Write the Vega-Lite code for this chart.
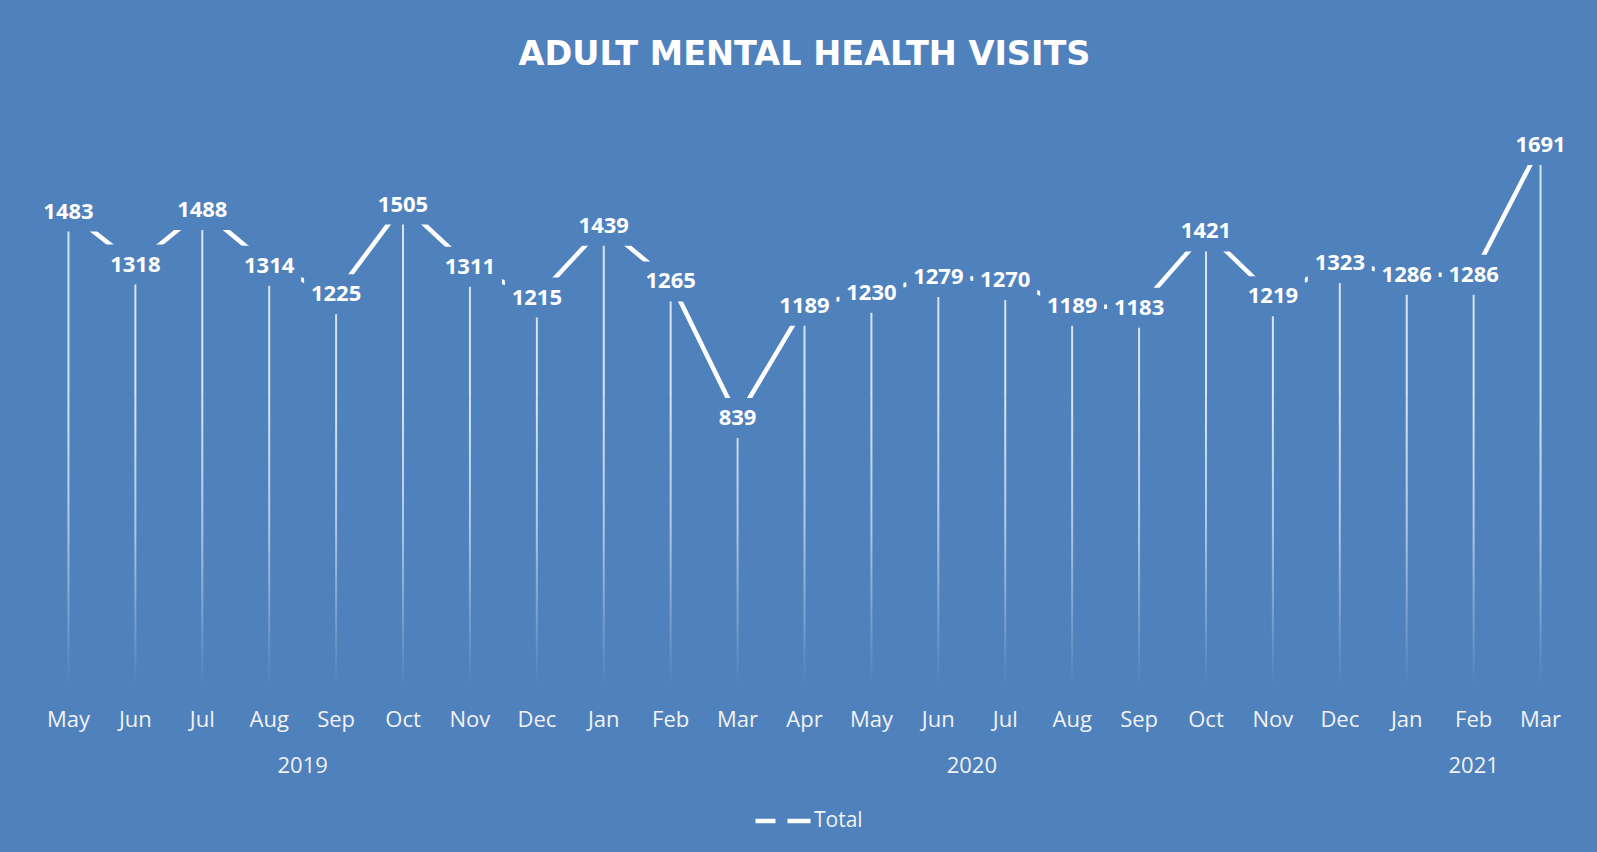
{
  "$schema": "https://vega.github.io/schema/vega-lite/v6.json",
  "autosize": "none",
  "padding": {"left": 35, "top": 110, "right": 23, "bottom": 165},
  "width": 1539,
  "height": 577,
  "background": "#4F81BD",
  "config": {"view": {"stroke": null}},
  "title": {
    "text": "ADULT MENTAL HEALTH VISITS",
    "font": "DejaVu Sans",
    "fontWeight": "bold",
    "fontSize": 33.5,
    "color": "#FFFFFF",
    "anchor": "middle",
    "frame": "group",
    "baseline": "alphabetic",
    "offset": 12
  },
  "data": {
    "values": [
      {"period": "May 2019", "series": "Total", "visits": 1483},
      {"period": "Jun 2019", "series": "Total", "visits": 1318},
      {"period": "Jul 2019", "series": "Total", "visits": 1488},
      {"period": "Aug 2019", "series": "Total", "visits": 1314},
      {"period": "Sep 2019", "series": "Total", "visits": 1225},
      {"period": "Oct 2019", "series": "Total", "visits": 1505},
      {"period": "Nov 2019", "series": "Total", "visits": 1311},
      {"period": "Dec 2019", "series": "Total", "visits": 1215},
      {"period": "Jan 2020", "series": "Total", "visits": 1439},
      {"period": "Feb 2020", "series": "Total", "visits": 1265},
      {"period": "Mar 2020", "series": "Total", "visits": 839},
      {"period": "Apr 2020", "series": "Total", "visits": 1189},
      {"period": "May 2020", "series": "Total", "visits": 1230},
      {"period": "Jun 2020", "series": "Total", "visits": 1279},
      {"period": "Jul 2020", "series": "Total", "visits": 1270},
      {"period": "Aug 2020", "series": "Total", "visits": 1189},
      {"period": "Sep 2020", "series": "Total", "visits": 1183},
      {"period": "Oct 2020", "series": "Total", "visits": 1421},
      {"period": "Nov 2020", "series": "Total", "visits": 1219},
      {"period": "Dec 2020", "series": "Total", "visits": 1323},
      {"period": "Jan 2021", "series": "Total", "visits": 1286},
      {"period": "Feb 2021", "series": "Total", "visits": 1286},
      {"period": "Mar 2021", "series": "Total", "visits": 1691}
    ]
  },
  "resolve": {"axis": {"x": "independent"}},
  "layer": [
    {
      "mark": {"type": "bar", "size": 2, "color": "#FFFFFF", "opacity": 0.78},
      "encoding": {
        "x": {
          "field": "period", "type": "ordinal", "sort": null,
          "scale": {"type": "band", "paddingInner": 0, "paddingOuter": 0},
          "axis": {
            "orient": "bottom", "values": ["Aug 2019", "Jun 2020"], "labelOffset": 33.5,
            "labelExpr": "split(datum.label, ' ')[1]", "offset": 46,
            "ticks": false, "domain": false, "grid": false, "title": null, "labelAngle": 0,
            "labelFont": "Open Sans", "labelFontSize": 22, "labelColor": "#F2F2F2", "labelPadding": 22
          }
        },
        "y": {"field": "visits", "type": "quantitative", "scale": {"domain": [0, 1800]}, "axis": null},
        "y2": {"datum": 900}
      }
    },
    {
      "mark": {
        "type": "bar", "size": 2,
        "fill": {
          "gradient": "linear", "x1": 0, "y1": 0, "x2": 0, "y2": 1,
          "stops": [
            {"offset": 0, "color": "rgba(255,255,255,0.78)"},
            {"offset": 0.45, "color": "rgba(255,255,255,0.55)"},
            {"offset": 0.85, "color": "rgba(255,255,255,0.15)"},
            {"offset": 1, "color": "rgba(255,255,255,0)"}
          ]
        }
      },
      "encoding": {
        "x": {
          "field": "period", "type": "ordinal", "sort": null,
          "axis": {
            "orient": "bottom", "values": ["Feb 2021"],
            "labelExpr": "split(datum.label, ' ')[1]", "offset": 46,
            "ticks": false, "domain": false, "grid": false, "title": null, "labelAngle": 0,
            "labelFont": "Open Sans", "labelFontSize": 22, "labelColor": "#F2F2F2", "labelPadding": 22
          }
        },
        "y": {"datum": 900, "type": "quantitative"}
      }
    },
    {
      "mark": {"type": "line", "strokeWidth": 4.5},
      "encoding": {
        "x": {
          "field": "period", "type": "ordinal", "sort": null,
          "axis": {
            "orient": "bottom", "labelExpr": "split(datum.label, ' ')[0]",
            "ticks": false, "domain": false, "grid": false, "title": null, "labelAngle": 0,
            "labelFont": "Open Sans", "labelFontSize": 22, "labelColor": "#F2F2F2", "labelPadding": 22
          }
        },
        "y": {"field": "visits", "type": "quantitative"},
        "color": {
          "field": "series", "type": "nominal",
          "scale": {"range": ["#FFFFFF"]},
          "legend": {
            "orient": "none", "legendX": 718, "legendY": 681, "title": null,
            "symbolType": "stroke", "symbolStrokeWidth": 4.5, "symbolSize": 3025,
            "symbolDash": [20, 12, 23],
            "labelFont": "Open Sans", "labelFontSize": 21, "labelColor": "#F2F2F2", "labelOffset": 1
          }
        }
      }
    },
    {
      "mark": {
        "type": "point", "filled": true, "fill": "#4F81BD", "opacity": 1, "strokeWidth": 0,
        "shape": "M-1,-0.625H1V0.625H-1Z", "size": 4096
      },
      "encoding": {
        "x": {"field": "period", "type": "ordinal", "sort": null, "axis": null},
        "y": {"field": "visits", "type": "quantitative"}
      }
    },
    {
      "mark": {
        "type": "text", "font": "Open Sans", "fontWeight": "bold", "fontSize": 22,
        "color": "#FFFFFF", "baseline": "middle", "align": "center"
      },
      "encoding": {
        "x": {"field": "period", "type": "ordinal", "sort": null, "axis": null},
        "y": {"field": "visits", "type": "quantitative"},
        "text": {"field": "visits", "type": "quantitative"}
      }
    }
  ]
}
